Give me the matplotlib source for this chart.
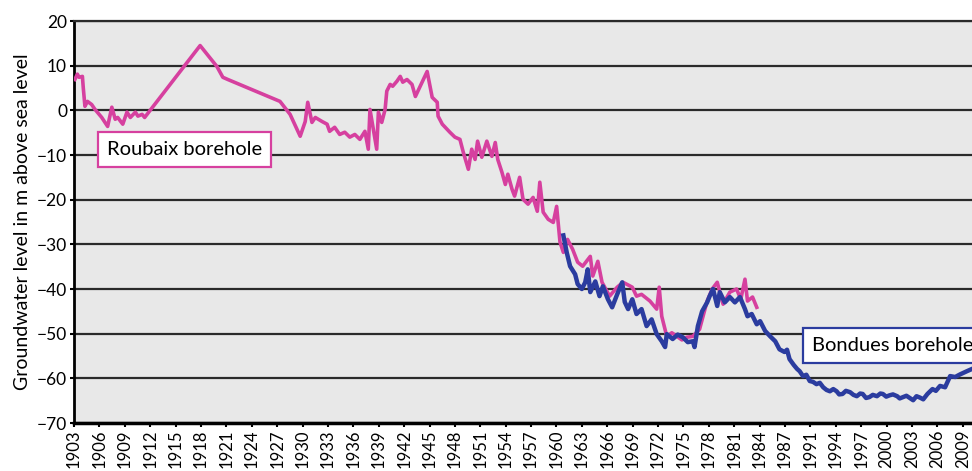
import numpy as np
import matplotlib.pyplot as plt

plt.rcParams['font.family'] = ['Lato', 'DejaVu Sans']

# Roubaix borehole (magenta) - groundwater level, m above sea level
roubaix_year = [1903.1, 1903.4, 1903.6, 1904.0, 1904.1, 1904.3, 1904.6, 1905.1, 1905.5,
                1906.3, 1907.0, 1907.5, 1907.9, 1908.2, 1908.8, 1909.3, 1909.7, 1910.3,
                1910.6, 1911.1, 1911.4, 1918.0, 1920.0, 1920.7, 1921.3, 1927.5, 1928.7,
                1929.9, 1930.5, 1930.8, 1931.3, 1931.7, 1932.5, 1933.1, 1933.4, 1934.0,
                1934.6, 1935.2, 1935.8, 1936.4, 1937.0, 1937.6, 1938.0, 1938.2, 1938.6,
                1939.0, 1939.2, 1939.6, 1940.0, 1940.2, 1940.6, 1940.9, 1941.4, 1941.8,
                1942.1, 1942.6, 1943.2, 1943.6, 1943.9, 1944.4, 1945.0, 1945.6, 1946.2,
                1946.3, 1946.8, 1947.4, 1947.7, 1948.3, 1948.9, 1949.3, 1949.9, 1950.3,
                1950.7, 1951.0, 1951.5, 1952.1, 1952.7, 1953.1, 1953.4, 1953.9, 1954.3,
                1954.6, 1955.1, 1955.4, 1956.0, 1956.4, 1957.0, 1957.6, 1958.1, 1958.4,
                1958.8, 1959.4, 1960.0, 1960.4, 1960.8, 1961.2, 1961.7, 1962.3, 1962.9,
                1963.5, 1964.4, 1964.7, 1965.3, 1965.8, 1966.7, 1967.6, 1968.3, 1969.4,
                1969.9, 1970.5, 1971.5, 1972.3, 1972.6, 1972.9, 1973.5, 1974.1, 1974.7,
                1975.3, 1975.9, 1976.6, 1977.4, 1978.3, 1978.9, 1979.5, 1980.2, 1981.0,
                1981.8, 1982.3, 1982.8, 1983.1, 1983.7, 1984.2]
roubaix_level = [6.9, 8.1, 7.4, 7.6, 5.1, 0.9, 2.0, 1.3, 0.2,
                 -1.6, -3.6, 0.7, -2.0, -1.6, -3.1, -0.4, -1.6, -0.4,
                 -1.3, -0.9, -1.6, 14.5, 9.8, 7.4, 6.9, 2.0, -0.9,
                 -5.8, -2.5, 1.8, -2.7, -1.6, -2.5, -3.1, -4.7, -3.8,
                 -5.4, -4.9, -6.0, -5.4, -6.5, -4.7, -8.7, 0.2, -4.3,
                 -8.7, -0.4, -2.7, 0.2, 4.3, 5.8, 5.4, 6.5, 7.6,
                 6.3, 6.9, 5.8, 3.1, 4.3, 6.3, 8.7, 2.9, 1.8,
                 -1.3, -3.1, -4.3, -4.9, -6.0, -6.5, -9.4, -13.2, -8.7,
                 -11.0, -6.9, -10.5, -6.9, -10.3, -7.2, -11.0, -13.9, -16.6,
                 -14.3, -17.7, -19.2, -15.0, -19.9, -21.0, -19.5, -22.6, -16.1,
                 -22.8, -24.4, -25.1, -21.5, -29.5, -31.8, -28.9, -31.1, -34.0,
                 -34.9, -32.7, -37.1, -33.8, -38.5, -41.6, -39.6, -38.5, -39.6,
                 -41.6, -41.2, -42.7, -44.5, -39.6, -46.1, -50.6, -49.8, -50.6,
                 -51.4, -50.8, -50.6, -49.0, -42.7, -40.0, -38.5, -43.4, -40.7,
                 -40.0, -42.3, -37.8, -42.7, -41.8, -44.1]

# Bondues borehole (blue)
bondues_year = [1961.2, 1961.6, 1962.0, 1962.6, 1962.9, 1963.4, 1963.8, 1964.1, 1964.4,
                1965.0, 1965.5, 1965.9, 1966.5, 1967.0, 1967.6, 1968.2, 1968.5, 1968.9,
                1969.4, 1969.9, 1970.5, 1971.1, 1971.7, 1972.3, 1972.9, 1973.3, 1973.5,
                1974.2, 1974.8, 1975.4, 1976.0, 1976.6, 1976.8, 1977.2, 1977.7, 1978.3,
                1978.6, 1979.0, 1979.5, 1979.8, 1980.4, 1981.0, 1981.6, 1982.2, 1982.8,
                1983.1, 1983.6, 1984.2, 1984.6, 1985.2, 1985.8, 1986.4, 1986.9, 1987.5,
                1987.8, 1988.1, 1988.6, 1989.0, 1989.3, 1989.7, 1990.1, 1990.5, 1990.9,
                1991.3, 1991.7, 1992.1, 1992.5, 1992.9, 1993.3, 1993.7, 1994.0, 1994.4,
                1994.8, 1995.3, 1995.7, 1996.1, 1996.5, 1996.8, 1997.2, 1997.6, 1998.0,
                1998.5, 1998.9, 1999.2, 1999.6, 2000.0, 2000.4, 2000.9, 2001.2, 2001.6,
                2002.0, 2002.4, 2002.8, 2003.2, 2003.6, 2004.0, 2004.5, 2005.1, 2005.5,
                2006.0, 2006.6, 2007.2, 2007.8, 2008.4, 2009.2, 2009.8]
bondues_level = [-28.0, -31.8, -34.9, -36.7, -38.9, -40.0, -38.5, -35.6, -40.7,
                 -38.3, -41.6, -39.4, -42.3, -44.1, -41.2, -38.5, -42.9, -44.5,
                 -42.3, -45.6, -44.5, -48.3, -46.8, -50.1, -51.7, -53.0, -50.1,
                 -51.2, -50.2, -50.8, -51.9, -51.7, -53.0, -48.3, -45.0, -43.0,
                 -41.6, -40.0, -43.8, -40.7, -43.0, -41.8, -43.0, -41.8, -44.5,
                 -46.1, -45.6, -47.9, -47.2, -49.4, -50.6, -51.7, -53.5, -54.1,
                 -53.6, -55.7, -57.0, -57.9, -58.4, -59.5, -59.2, -60.6, -60.8,
                 -61.3, -61.0, -62.0, -62.6, -62.9, -62.4, -62.9, -63.6, -63.5,
                 -62.8, -63.1, -63.7, -64.0, -63.4, -63.5, -64.4, -64.2, -63.7,
                 -64.0, -63.4, -63.5, -64.1, -63.8, -63.6, -64.0, -64.5, -64.2,
                 -63.9, -64.4, -64.9, -64.0, -64.3, -64.7, -63.5, -62.4, -62.8,
                 -61.7, -62.0, -59.5, -59.7, -59.1, -58.4, -57.9]

# tick labels: every third year, with the 1987 -> 1991 step on the time axis
year_labels = [str(y) for y in range(1903, 1988, 3)] + [str(y) for y in range(1991, 2010, 3)]
level_ticks = list(range(-70, 21, 10))

pink = '#d6409f'
blue = '#2b3c9f'

fig = plt.figure(figsize=(9.72, 4.71), dpi=100)
ax = fig.add_axes([74 / 972, 1 - 423 / 471, 1 - 74 / 972, 402 / 471])
ax.set_facecolor('#e8e8e8')

ax.plot(roubaix_year, roubaix_level, color=pink, lw=2.6, solid_joinstyle='round', zorder=3)
ax.plot(bondues_year, bondues_level, color=blue, lw=3.2, solid_joinstyle='round', zorder=4)

ax.set_xlim(1903, 2009.8)
ax.set_ylim(-70, 20)
ax.set_xticks(np.linspace(1903, 2008.7, len(year_labels)))
ax.set_xticklabels(year_labels, rotation=90, fontsize=12)
ax.set_yticks(level_ticks)
ax.tick_params(axis='y', labelsize=12.5, length=3, width=1.5, pad=2)
ax.tick_params(axis='x', length=3, width=1.5, pad=2)

ax.grid(axis='y', color='#2a2a2a', lw=1.6)
ax.set_axisbelow(True)
ax.spines['right'].set_visible(False)
ax.spines['top'].set_color('#2a2a2a')
ax.spines['top'].set_linewidth(1.6)
ax.spines['left'].set_linewidth(2)
ax.spines['bottom'].set_linewidth(2.5)

ax.set_ylabel('Groundwater level in m above sea level', fontsize=14, labelpad=4)

ax.text(1906.9, -8.7, 'Roubaix borehole', fontsize=14.5, ha='left', va='center', zorder=6,
        bbox=dict(boxstyle='square,pad=0.45', fc='white', ec=pink, lw=1.6))
ax.text(1990.8, -52.6, 'Bondues borehole', fontsize=14.5, ha='left', va='center', zorder=6,
        clip_on=False,
        bbox=dict(boxstyle='square,pad=0.45', fc='white', ec=blue, lw=1.6))

fig.savefig('out.png', dpi=100)
